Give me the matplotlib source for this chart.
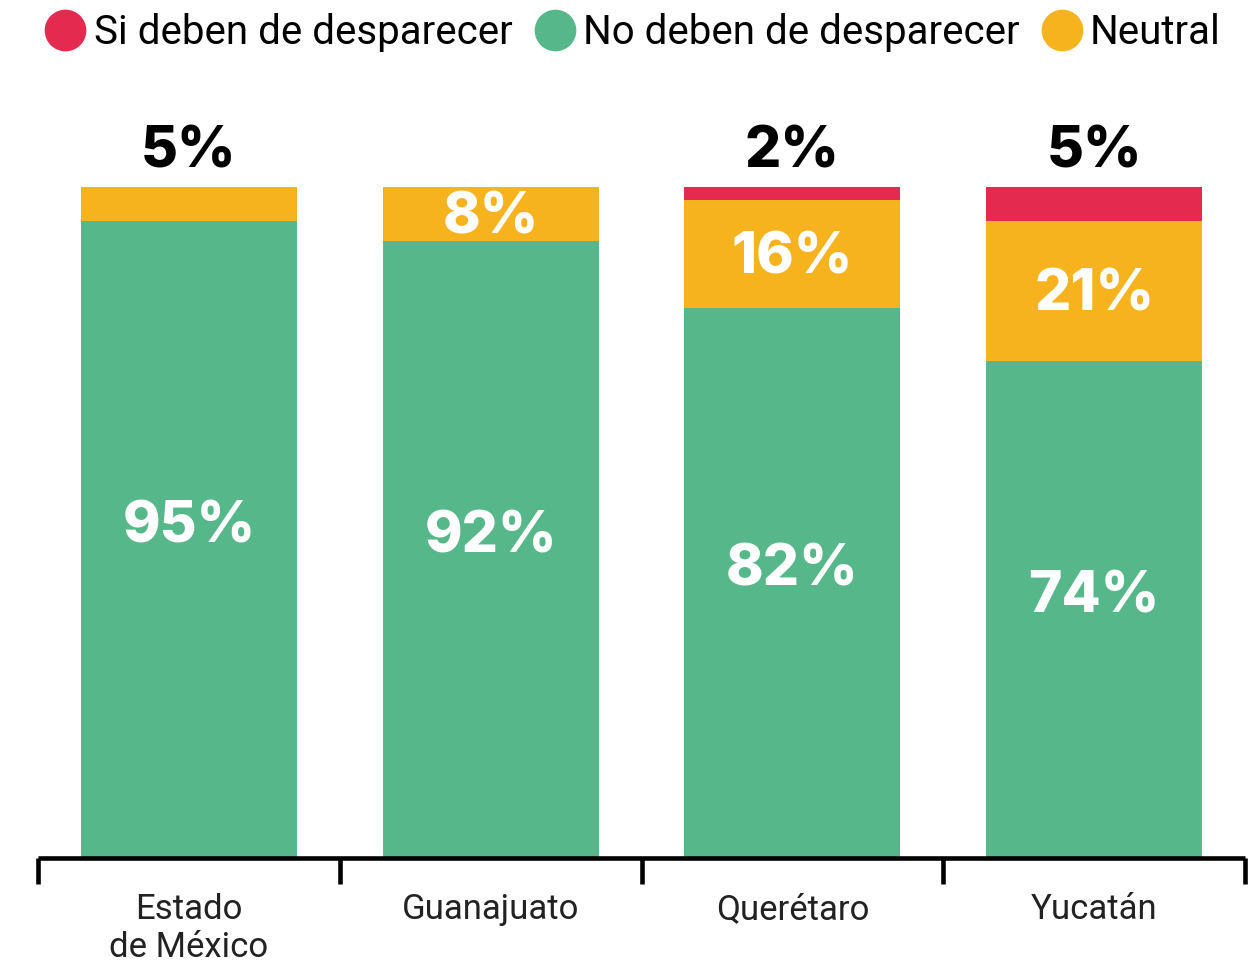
import matplotlib
matplotlib.use("Agg")
import matplotlib.pyplot as plt
from matplotlib.lines import Line2D
import numpy as np

categories = ["Estado\nde México", "Guanajuato", "Querétaro", "Yucatán"]
no_deben = [95, 92, 82, 74]
neutral = [5, 8, 16, 21]
si_deben = [0, 0, 2, 5]
series_names = ["Si deben de desparecer", "No deben de desparecer", "Neutral"]

RED = "#E52A4F"
GREEN = "#56B88A"
YELLOW = "#F7B31E"

plt.rcParams['font.family'] = ['Roboto', 'DejaVu Sans']

W, H = 1256, 965
fig = plt.figure(figsize=(W / 100, H / 100), dpi=100)
ax = fig.add_axes([38 / W, (H - 858) / H, (1245 - 38) / W, (858 - 187) / H])

x = np.arange(len(categories))
bw = 0.716
no_arr = np.array(no_deben)
neu_arr = np.array(neutral)
si_arr = np.array(si_deben)

ax.bar(x, no_arr, bw, color=GREEN, linewidth=0)
ax.bar(x, neu_arr, bw, bottom=no_arr, color=YELLOW, linewidth=0)
ax.bar(x, si_arr, bw, bottom=no_arr + neu_arr, color=RED, linewidth=0)

num_font = dict(fontsize=41, fontweight='heavy', family=['Inter', 'DejaVu Sans'])

for i in range(len(categories)):
    ax.text(x[i], no_arr[i] / 2 + 1.8, f"{no_arr[i]}%", ha='center', va='center', color='white', **num_font)
    top = no_arr[i] + neu_arr[i] + si_arr[i]
    if neu_arr[i] >= 6:
        ax.text(x[i], no_arr[i] + neu_arr[i] / 2 - 0.7, f"{neu_arr[i]}%", ha='center', va='center',
                color='white', **num_font)
        above = si_arr[i] if si_arr[i] > 0 else None
    else:
        above = neu_arr[i]
    if above:
        ax.annotate(f"{above}%", xy=(x[i], top), xytext=(0, 14), textcoords='offset points',
                    ha='center', va='baseline', color='black', **num_font)

ax.set_xlim(-0.5, 3.5)
ax.set_ylim(0, 100)
for s in ['top', 'right', 'left']:
    ax.spines[s].set_visible(False)
ax.spines['bottom'].set_linewidth(3.3)
ax.spines['bottom'].set_capstyle('butt')
ax.set_yticks([])
ax.set_xticks(x)
ax.set_xticklabels(categories, fontsize=25, color='#222222', linespacing=1.22)
ax.tick_params(axis='x', which='major', length=0, pad=25)
ax.set_xticks(np.arange(-0.5, 4.0, 1.0), minor=True)
ax.tick_params(axis='x', which='minor', length=19, width=3.3, color='black', direction='out')

handles = [Line2D([], [], marker='o', linestyle='none', markersize=29, markerfacecolor=c,
                  markeredgecolor=c) for c in [RED, GREEN, YELLOW]]
fig.legend(handles, series_names, loc='center', bbox_to_anchor=(633 / W, 1 - 33 / H), ncol=3,
           frameon=False, fontsize=29, handletextpad=0.2, columnspacing=0.55, handlelength=1.0)

fig.savefig("out.png", dpi=100, facecolor='white')
